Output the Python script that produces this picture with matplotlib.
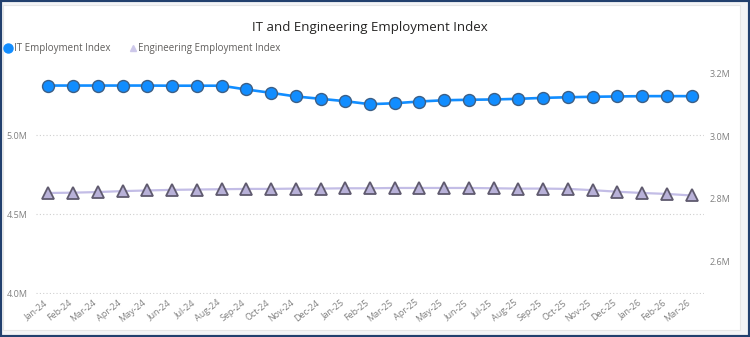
import matplotlib
matplotlib.use("Agg")
import matplotlib.pyplot as plt
from matplotlib.patches import Rectangle
from matplotlib.lines import Line2D
from matplotlib.transforms import ScaledTranslation

months = ["Jan-24", "Feb-24", "Mar-24", "Apr-24", "May-24", "Jun-24", "Jul-24", "Aug-24",
          "Sep-24", "Oct-24", "Nov-24", "Dec-24", "Jan-25", "Feb-25", "Mar-25", "Apr-25",
          "May-25", "Jun-25", "Jul-25", "Aug-25", "Sep-25", "Oct-25", "Nov-25", "Dec-25",
          "Jan-26", "Feb-26", "Mar-26"]
it_index = [5.313, 5.313, 5.313, 5.313, 5.313, 5.312, 5.312, 5.312, 5.288, 5.267,
            5.244, 5.229, 5.214, 5.195, 5.201, 5.212, 5.220, 5.223, 5.225, 5.229,
            5.235, 5.239, 5.242, 5.244, 5.246, 5.246, 5.246]
eng_index = [2.819, 2.820, 2.822, 2.825, 2.827, 2.829, 2.830, 2.831, 2.832, 2.832,
             2.833, 2.833, 2.834, 2.834, 2.835, 2.835, 2.835, 2.835, 2.834, 2.833,
             2.833, 2.832, 2.828, 2.823, 2.819, 2.816, 2.811]
left_ticks = [4.0, 4.5, 5.0]
left_labels = ["4.0M", "4.5M", "5.0M"]
right_ticks = [2.6, 2.8, 3.0, 3.2]
right_labels = ["2.6M", "2.8M", "3.0M", "3.2M"]

plt.rcParams['font.family'] = ['Open Sans', 'DejaVu Sans']

W, H = 750, 337
fig = plt.figure(figsize=(W / 100, H / 100), dpi=100)
fig.patch.set_facecolor("#f3f4f6")

# outer navy frame and white card
fig.add_artist(Rectangle((0, 0), 1, 1, transform=fig.transFigure, facecolor="none",
                         edgecolor="#22406e", linewidth=3, zorder=0))
fig.add_artist(Rectangle((3 / W, 1 - 330 / H), 737 / W, 325 / H, transform=fig.transFigure,
                         facecolor="white", edgecolor="#e6e6e6", linewidth=0.8, zorder=0))

left, right, top, bottom = 36, 704, 65, 294
ax = fig.add_axes([left / W, 1 - bottom / H, (right - left) / W, (bottom - top) / H])
ax.set_facecolor("none")
ax2 = ax.twinx()

x = list(range(len(months)))

ax.plot(x, it_index, color="#118DFF", linewidth=1.9, marker="o", markersize=8.6,
        markerfacecolor="#118DFF", markeredgecolor="#3c5f86", markeredgewidth=1.0, zorder=3)
ax2.plot(x, eng_index, color="#c3bde6", linewidth=1.6, marker="^", markersize=8.2,
         markerfacecolor="#b8b1d8", markeredgecolor="#5f5a6e", markeredgewidth=1.3, zorder=3)

ax.set_xlim(-0.5, len(months) - 0.5)
ax.set_ylim(3.994, 5.443)
ax2.set_ylim(2.497, 3.227)

ax.set_yticks(left_ticks)
ax.set_yticklabels(left_labels)
ax2.set_yticks(right_ticks)
ax2.set_yticklabels(right_labels)

ax.grid(axis="y", linestyle=(0, (1, 2)), color="#cfcfcf", linewidth=0.8)
ax.set_axisbelow(True)

for a in (ax, ax2):
    for s in a.spines.values():
        s.set_visible(False)
    a.tick_params(length=0, labelsize=6.5, labelcolor="#808080")

ax.tick_params(axis="y", pad=6)
ax2.tick_params(axis="y", pad=4)

ax.set_xticks(x)
ax.set_xticklabels(months, rotation=38, ha="right", rotation_mode="anchor",
                   fontsize=6.5, color="#808080")
ax.tick_params(axis="x", pad=3)
offset = ScaledTranslation(-5 / 100, 0, fig.dpi_scale_trans)
for lbl in ax.get_xticklabels():
    lbl.set_transform(lbl.get_transform() + offset)

fig.text(370 / W, 1 - 27 / H, "IT and Engineering Employment Index", ha="center", va="center",
         fontsize=9.5, color="#252423")

# legend
fig.add_artist(Line2D([8 / W], [1 - 48 / H], marker="o", markersize=6.5, color="#118DFF",
                      markeredgecolor="#118DFF", transform=fig.transFigure, linestyle="none"))
fig.text(14 / W, 1 - 48 / H, "IT Employment Index", ha="left", va="center", fontsize=7,
         color="#605E5C")
fig.add_artist(Line2D([133 / W], [1 - 47.5 / H], marker="^", markersize=4.5, color="#cdc8ea",
                      markeredgecolor="#cdc8ea", transform=fig.transFigure, linestyle="none"))
fig.text(138 / W, 1 - 48 / H, "Engineering Employment Index", ha="left", va="center",
         fontsize=7, color="#605E5C")

fig.savefig("out.png", dpi=100, facecolor=fig.get_facecolor())
